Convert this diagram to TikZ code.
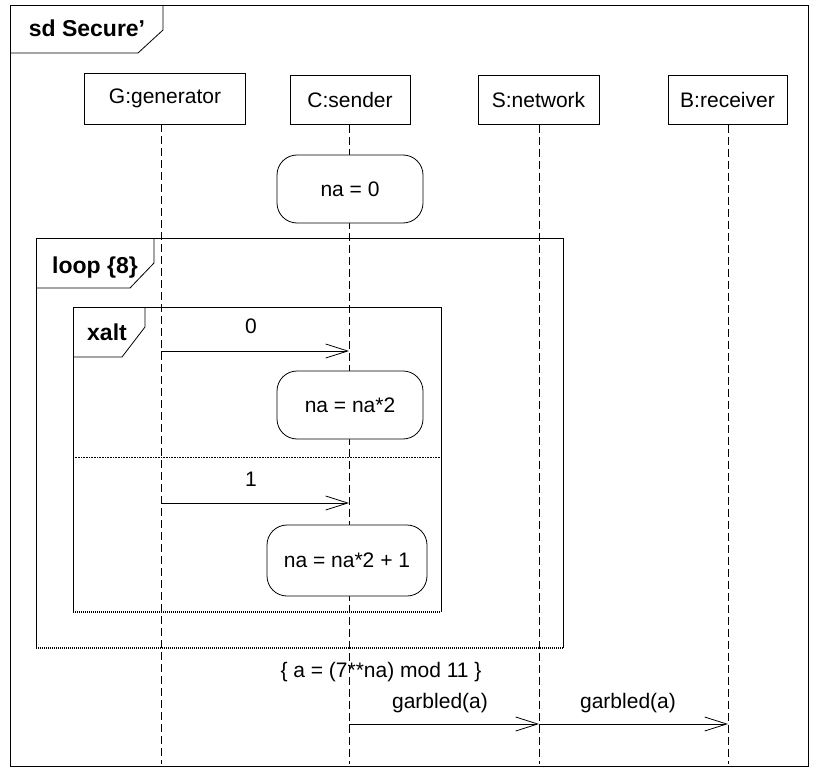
\documentclass[tikz,border=0pt]{standalone}
\usepackage{fontspec}
\setmainfont{Liberation Sans}
\usetikzlibrary{arrows.meta}
\tikzset{
  head/.style={draw, minimum width=120pt, minimum height=49pt, inner sep=0pt},
  life/.style={dash pattern=on 8pt off 4pt},
  act/.style={draw, fill=white, rounded corners=20pt, minimum width=146pt, minimum height=68pt, inner sep=0pt},
  msg/.style={-{Straight Barb[length=22pt,width=14pt]}},
  tag/.style={font=\fontsize{23}{27}\selectfont\bfseries, anchor=base},
  lbl/.style={anchor=base},
  bottomedge/.style={line width=1.2pt, dash pattern=on 1pt off 1pt}
}

\begin{document}
\begin{tikzpicture}[x=1pt,y=-1pt,line width=0.8pt,font=\fontsize{21}{25}\selectfont]
 \useasboundingbox (0,0) rectangle (817,773);
 \def\gx{161} \def\cx{349} \def\sx{539} \def\bx{728} \def\ybot{764}
 % outer frame
 \draw (10,5) rectangle (808,766);
 \draw (10,53) -- (138,53) -- (163,30) -- (163,5);
 \node[tag] (sd) at (87,37) {sd Secure’};
 % heads
 \node[head, minimum width=161pt, minimum height=51pt] (G) at (165,98.5) {G:generator};
 \node[head] (C) at (350,100) {C:sender};
 \node[head, minimum width=121pt] (S) at (538.5,100) {S:network};
 \node[head, minimum width=119pt] (B) at (727.5,100) {B:receiver};
 \foreach \n/\x in {G/\gx,C/\cx,S/\sx,B/\bx}
   \draw[life] (\n.south -| \x,0) -- (\x,\ybot);
 % start value
 \node[act] (init) at (350,189) {na = 0};
 % loop frame
 \draw (36,648) |- (563,238) -- (563,648);
 \draw[bottomedge] (36,648) -- (563,648);
 \draw (36,288) -- (130,288) -- (154,263) -- (154,238);
 \node[tag] (loop) at (95,273) {loop \{8\}};
 % xalt frame
 \draw (73,612) |- (441,307) -- (441,612);
 \draw[bottomedge] (73,612) -- (441,612);
 \draw (73,357) -- (122,357) -- (145,327) -- (145,307);
 \node[tag] (xalt) at (107,340) {xalt};
 \draw[densely dotted, line width=0.6pt] (73,457) -- (441,457);
 % first operand
 \coordinate (g0) at (\gx,351); \coordinate (c0) at (\cx,351);
 \draw[msg] (g0) -- (c0);
 \node[lbl] (m0) at (251,333) {0};
 \node[act] (dbl) at (350,405) {na = na*2};
 % second operand
 \coordinate (g1) at (\gx,503); \coordinate (c1) at (\cx,503);
 \draw[msg] (g1) -- (c1);
 \node[lbl] (m1) at (251,486) {1};
 \node[act, minimum width=160pt, minimum height=71pt] (dblp) at (347,560.5) {na = na*2 + 1};
 % sending
 \node[lbl] (asg) at (381,677) {\{ a = (7**na) mod 11 \}};
 \coordinate (c2) at (\cx,724); \coordinate (s2) at (\sx,724); \coordinate (b2) at (\bx,724);
 \draw[msg] (c2) -- (s2);
 \draw[msg] (s2) -- (b2);
 \node[lbl] (gc) at (440,708) {garbled(a)};
 \node[lbl] (gs) at (628,708) {garbled(a)};
\end{tikzpicture}
\end{document}
